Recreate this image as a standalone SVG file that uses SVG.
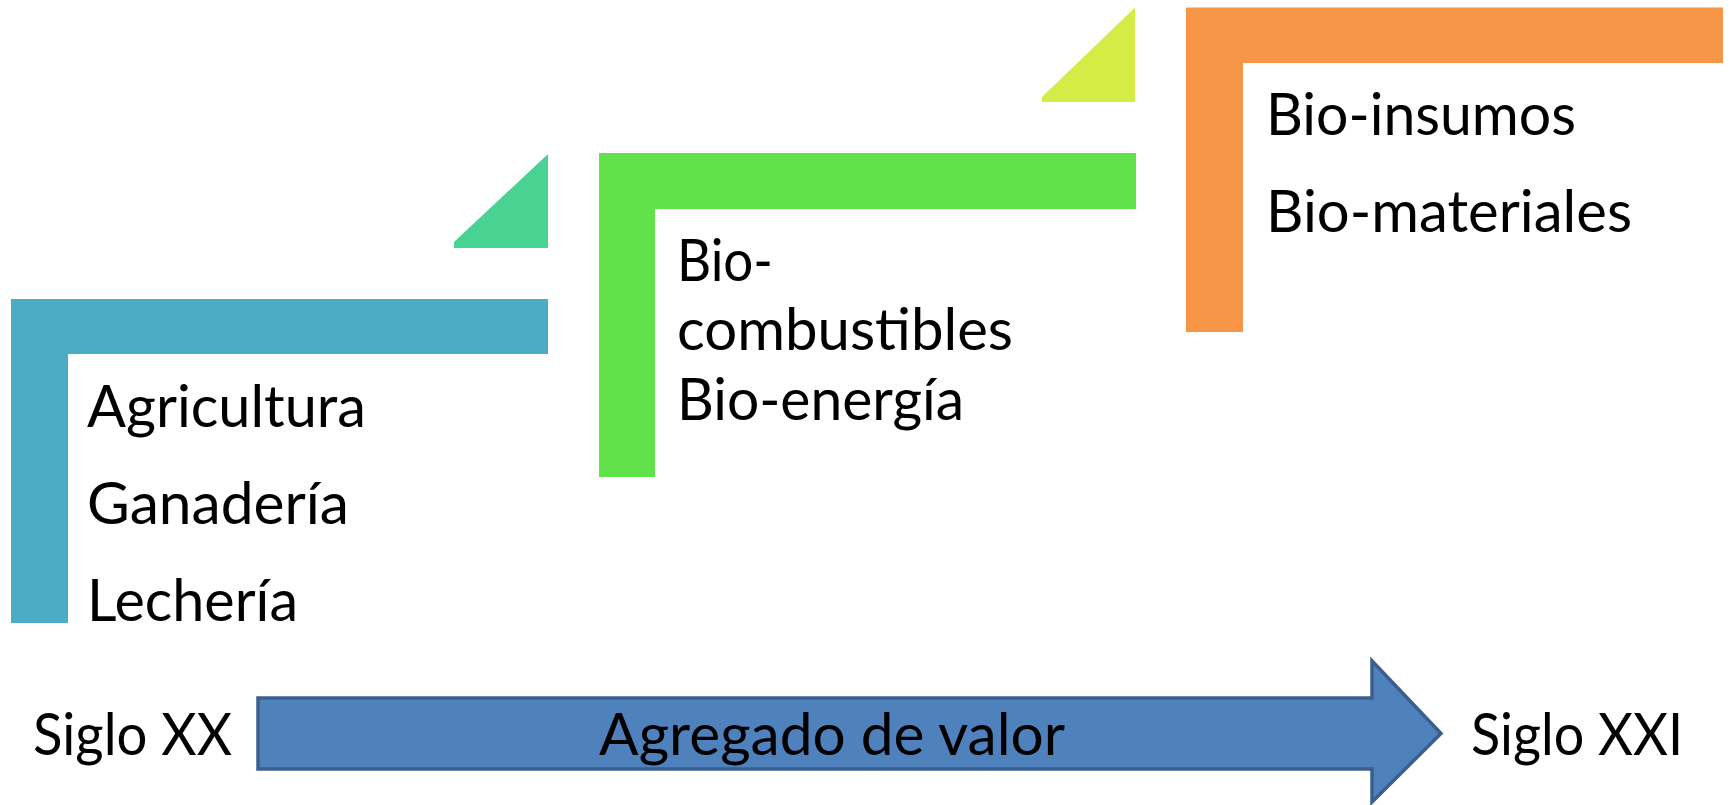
<svg xmlns="http://www.w3.org/2000/svg" width="1733" height="805" viewBox="0 0 1733 805">
<style>
.t{font-family:Lato,"Open Sans","Liberation Sans",sans-serif;font-size:58px;fill:#000}
.blue{fill:#4BACC6}
.green{fill:#61E24B}
.orange{fill:#F79646}
.tri1{fill:#49D392}
.tri2{fill:#D4EC45}
.arrow{fill:#4F81BD;stroke:#3B5F8D;stroke-width:3.5;stroke-linejoin:miter}
</style>
<rect width="1733" height="805" fill="#fff"/>
<g id="tri-teal"><path class="tri1" d="M548,154 V248 H454 V242 Z"/></g>
<g id="tri-lime"><path class="tri2" d="M1135,7.5 V102 H1042 V97 Z"/></g>
<g id="stage-1">
<path class="blue" d="M11,299 H548 V354 H68 V623 H11 Z"/>
<text class="t" x="87" y="427" textLength="279" lengthAdjust="spacingAndGlyphs">Agricultura</text>
<text class="t" x="87" y="524" textLength="262" lengthAdjust="spacingAndGlyphs">Ganadería</text>
<text class="t" x="87" y="621" textLength="211" lengthAdjust="spacingAndGlyphs">Lechería</text>
</g>
<g id="stage-2">
<path class="green" d="M599,153 H1136 V209 H655 V477 H599 Z"/>
<text class="t" x="677" y="281" textLength="96" lengthAdjust="spacingAndGlyphs">Bio-</text>
<text class="t" x="677" y="350" textLength="336" lengthAdjust="spacingAndGlyphs">combustibles</text>
<text class="t" x="677" y="420" textLength="287" lengthAdjust="spacingAndGlyphs">Bio-energía</text>
</g>
<g id="stage-3">
<path class="orange" d="M1186,7.5 H1723 V63 H1243 V332 H1186 Z"/>
<text class="t" x="1266" y="135" textLength="310" lengthAdjust="spacingAndGlyphs">Bio-insumos</text>
<text class="t" x="1266" y="232" textLength="366" lengthAdjust="spacingAndGlyphs">Bio-materiales</text>
</g>
<g id="label-siglo-xx"><text class="t" x="33" y="755" textLength="199" lengthAdjust="spacingAndGlyphs">Siglo XX</text></g>
<g id="label-siglo-xxi"><text class="t" x="1471" y="755" textLength="212" lengthAdjust="spacingAndGlyphs">Siglo XXI</text></g>
<g id="connectors">
<g id="arrow-agregado">
<path class="arrow" d="M258,698 H1372 V661 L1441,733.5 L1372,802 V769 H258 Z"/>
<text class="t" x="599" y="755" textLength="466" lengthAdjust="spacingAndGlyphs">Agregado de valor</text>
</g>
</g>
</svg>
